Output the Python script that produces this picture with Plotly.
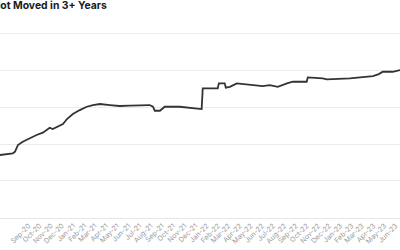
import plotly.graph_objects as go

dates = [
    "2020-06-15", "2020-07-20", "2020-07-26", "2020-08-03", "2020-08-16", "2020-09-04",
    "2020-09-23", "2020-10-10", "2020-10-21", "2020-10-29", "2020-11-06", "2020-11-17",
    "2020-12-04", "2020-12-15", "2020-12-31", "2021-01-19", "2021-02-07", "2021-02-24",
    "2021-03-15", "2021-04-11", "2021-05-08", "2021-06-05", "2021-07-02", "2021-07-29",
    "2021-08-07", "2021-08-12", "2021-08-26", "2021-09-08", "2021-10-19", "2021-11-24",
    "2021-12-13", "2021-12-18", "2021-12-21", "2022-01-31", "2022-02-03", "2022-02-19",
    "2022-02-22", "2022-03-05", "2022-03-24", "2022-04-29", "2022-06-03", "2022-06-22",
    "2022-07-14", "2022-08-08", "2022-08-24", "2022-10-01", "2022-10-04", "2022-11-14",
    "2022-11-25", "2023-01-27", "2023-02-23", "2023-03-31", "2023-04-16", "2023-04-27",
    "2023-05-24", "2023-06-13",
]
supply_pct = [
    28.51, 28.74, 28.96, 29.86, 30.31, 30.81,
    31.22, 31.53, 31.89, 32.20, 32.03, 32.30,
    32.70, 33.38, 34.05, 34.59, 35.04, 35.27,
    35.41, 35.27, 35.14, 35.18, 35.27, 35.27,
    35.04, 34.50, 34.50, 35.04, 35.04, 34.82,
    34.73, 34.73, 37.53, 37.53, 38.20, 38.20,
    37.61, 37.74, 38.20, 37.97, 37.84, 37.97,
    37.74, 38.20, 38.42, 38.42, 39.01, 38.88,
    38.74, 38.88, 39.01, 39.19, 39.46, 39.77,
    39.77, 40.00,
]

title_text = "Bitcoin Supply That Has Not Moved in 3+ Years"
subtitle_text = "Share of circulating supply, Bitcoin"

fig = go.Figure()
fig.add_trace(go.Scatter(
    x=dates, y=supply_pct, mode="lines",
    line=dict(color="#333333", width=1.8),
    hoverinfo="skip",
))

fig.update_layout(
    width=400, height=250,
    margin=dict(l=0, r=0, t=32, b=32),
    paper_bgcolor="white", plot_bgcolor="white",
    showlegend=False,
    font=dict(family="Inter", color="#888888"),
    xaxis=dict(
        type="date",
        range=["2020-06-15", "2023-06-13"],
        tick0="2020-07-01", dtick="M1",
        tickformat="%b-%y", tickangle=-45,
        tickfont=dict(size=7, color="#9a9a9a"),
        showgrid=False, showline=True, linecolor="#e6e6e6", linewidth=1,
        ticks="", zeroline=False,
    ),
    yaxis=dict(
        range=[19.99, 45.15], dtick=5, tick0=20,
        showticklabels=False, showgrid=True, gridcolor="#ebebeb", gridwidth=1,
        zeroline=False, ticks="",
    ),
    annotations=[
        dict(text=title_text, xref="paper", yref="paper", x=0.272, y=1.145,
             xanchor="right", yanchor="middle", showarrow=False,
             font=dict(family="Inter", size=10.4, color="#1a1a1a", weight="bold")),
        dict(text=subtitle_text, xref="paper", yref="paper", x=0.0085, y=1.075,
             xanchor="right", yanchor="middle", showarrow=False,
             font=dict(family="Inter", size=6, color="#999999")),
    ],
)

fig.write_html("out.html")
